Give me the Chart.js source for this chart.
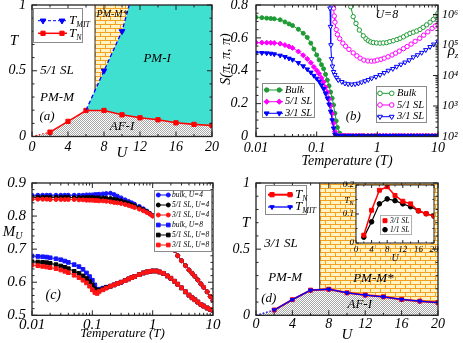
<!DOCTYPE html>
<html><head><meta charset="utf-8">
<script src="https://cdn.jsdelivr.net/npm/chart.js@4.4.1/dist/chart.umd.min.js"></script>
<style>
html,body{margin:0;padding:0;background:#fff;}
body{width:463px;height:343px;position:relative;overflow:hidden;}
canvas{position:absolute;}
</style></head><body>
<canvas id="ca" width="232" height="172" style="left:0;top:0;width:232px;height:172px"></canvas>
<canvas id="cc" width="232" height="171" style="left:0;top:172px;width:232px;height:171px"></canvas>
<canvas id="cb" width="248" height="172" style="left:215px;top:0;width:248px;height:172px"></canvas>
<canvas id="cd" width="248" height="171" style="left:215px;top:172px;width:248px;height:171px"></canvas>
<canvas id="ci" width="104" height="86" style="left:336px;top:180px;width:104px;height:86px"></canvas>
<script>
// ================= DATA =================
// (a) 5/1 SL phase diagram
const uGrid = [2,4,6,8,10,12,14,16,18,20];
const aTN   = [0.033,0.115,0.198,0.198,0.165,0.142,0.127,0.104,0.092,0.084];
const aMitU = [6,8,10,10.8];
const aMitT = [0.2,0.5,0.8,1.0];
const aMitMarked = [0,1,1,0];
const mStarLeftU = 7;   // left edge of the PM-M* region

// (b) S(pi,pi,pi) and rho_z versus temperature, U=8
const sT = [
0.01,0.0125,0.015,0.0175,0.02,0.025,0.03,0.035,0.04,0.05,
0.06,0.07,0.08,0.09,0.1,0.11,0.12,0.13,0.14,0.15,
0.16,0.17,0.18,0.19,0.2,0.21,0.22,0.24,0.26,0.28,
0.3,0.33,0.36,0.4,0.45,0.5,0.55,0.6,0.7,0.8,
0.9,1,1.1,1.25,1.4,1.6,1.8,2,2.25,2.5,
2.8,3.2,3.6,4,4.5,5,5.6,6.3,7,8,
9,10];
const sBulk = [
0.725,0.723,0.72,0.718,0.716,0.71,0.697,0.685,0.675,0.652,
0.628,0.603,0.568,0.532,0.496,0.466,0.437,0.412,0.378,0.343,
0.308,0.27,0.233,0.192,0.141,0.095,0.055,0.02,0.008,0.006,
0.005,0.005,0.005,0.005,0.005,0.005,0.005,0.005,0.005,0.005,
0.005,0.005,0.005,0.005,0.005,0.005,0.005,0.005,0.005,0.005,
0.005,0.005,0.005,0.005,0.005,0.005,0.005,0.005,0.005,0.005,
0.005,0.005];
const s51 = [
0.571,0.571,0.571,0.57,0.569,0.565,0.556,0.548,0.539,0.517,
0.494,0.472,0.449,0.423,0.402,0.382,0.357,0.332,0.3,0.27,
0.229,0.189,0.14,0.08,0.03,0.008,0.005,0.005,0.005,0.005,
0.005,0.005,0.005,0.005,0.005,0.005,0.005,0.005,0.005,0.005,
0.005,0.005,0.005,0.005,0.005,0.005,0.005,0.005,0.005,0.005,
0.005,0.005,0.005,0.005,0.005,0.005,0.005,0.005,0.005,0.005,
0.005,0.005];
const s31 = [
0.51,0.509,0.507,0.505,0.501,0.493,0.485,0.475,0.467,0.448,
0.428,0.409,0.39,0.37,0.353,0.335,0.312,0.29,0.262,0.233,
0.196,0.152,0.1,0.05,0.012,0.004,0.004,0.004,0.004,0.004,
0.004,0.004,0.004,0.004,0.004,0.004,0.004,0.004,0.004,0.004,
0.004,0.004,0.004,0.004,0.004,0.004,0.004,0.004,0.004,0.004,
0.004,0.004,0.004,0.004,0.004,0.004,0.004,0.004,0.004,0.004,
0.004,0.004];
const rBulkT = [0.33,0.364,0.4,0.445,0.505,0.587,0.65,0.71,0.78,0.86,0.97,1.11,1.25,1.43,1.6,1.83,2.1,2.37,2.7,3.05,3.45,3.92,4.45,5.05,5.7,6.5,7.4,8.37,9.2,10];
const rBulk  = [3.2e6,1.8e6,8.5e5,5.1e5,3.1e5,2.0e5,1.6e5,1.38e5,1.26e5,1.2e5,1.17e5,1.15e5,1.17e5,1.2e5,1.29e5,1.38e5,1.51e5,1.66e5,1.86e5,2.14e5,2.4e5,2.63e5,2.88e5,3.24e5,3.8e5,4.57e5,5.6e5,6.9e5,8.9e5,1.12e6];
const r51T = [0.185,0.19,0.195,0.2,0.21,0.22,0.24,0.27,0.3,0.34,0.4,0.46,0.52,0.6,0.7,0.8,0.9,1.0,1.15,1.3,1.5,1.75,2.0,2.3,2.7,3.1,3.6,4.2,5.0,5.8,6.8,8.0,9.0,10];
const r51  = [4.0e6,1.6e6,8.9e5,5.6e5,3.2e5,2.2e5,1.6e5,1.15e5,9.1e4,7.2e4,5.5e4,4.4e4,3.7e4,3.2e4,3.0e4,2.95e4,3.0e4,3.2e4,3.4e4,3.7e4,4.1e4,4.7e4,5.4e4,6.3e4,7.6e4,8.9e4,1.07e5,1.32e5,1.66e5,2.1e5,2.7e5,3.5e5,4.2e5,4.8e5];
const r31T = [0.163,0.166,0.169,0.172,0.176,0.182,0.19,0.2,0.213,0.227,0.26,0.293,0.33,0.378,0.43,0.487,0.55,0.627,0.71,0.807,0.95,1.11,1.3,1.52,1.8,2.08,2.45,2.86,3.35,3.92,4.6,5.38,6.3,7.38,8.5,10];
const r31  = [5.0e6,1.6e6,4.0e5,1.0e5,3.5e4,2.0e4,1.32e4,1.05e4,8.5e3,7.1e3,6.2e3,5.5e3,5.25e3,5.1e3,5.25e3,5.5e3,6.0e3,6.6e3,7.2e3,8.1e3,9.1e3,1.05e4,1.23e4,1.45e4,1.66e4,1.95e4,2.3e4,2.7e4,3.2e4,4.0e4,4.7e4,5.6e4,6.9e4,8.7e4,1.05e5,1.32e5];

// (c) M_U versus temperature
const cT = [
0.01,0.0125,0.015,0.0175,0.02,0.025,0.03,0.035,0.04,0.05,
0.06,0.07,0.08,0.09,0.1,0.11,0.12,0.13,0.15,0.17,
0.2,0.23,0.26,0.3,0.35,0.4,0.45,0.5,0.6,0.7,
0.8,0.9,1,1.15,1.3,1.5,1.75,2,2.3,2.6,
3,3.5,4,4.5,5,5.6,6.3,7,8,9,
10];
const mBulk4 = [
0.863,0.863,0.863,0.863,0.863,0.863,0.863,0.863,0.863,0.863,
0.863,0.863,0.864,0.864,0.864,0.865,0.865,0.866,0.867,0.868,
0.869,0.865,0.86,0.855,0.849,0.844,0.84,0.836,0.829,0.822,
0.815,0.808,0.801,0.788,0.775,0.758,0.737,0.718,0.697,0.68,
0.665,0.65,0.637,0.627,0.618,0.607,0.595,0.585,0.571,0.557,
0.545];
const m51U4 = [
0.857,0.857,0.857,0.857,0.857,0.857,0.857,0.857,0.857,0.856,
0.856,0.856,0.856,0.856,0.856,0.855,0.855,0.855,0.855,0.854,
0.853,0.851,0.849,0.846,0.842,0.838,0.834,0.831,0.825,0.819,
0.813,0.807,0.801,0.788,0.775,0.758,0.737,0.718,0.697,0.68,
0.665,0.65,0.637,0.627,0.618,0.607,0.595,0.585,0.571,0.557,
0.545];
const m31U4 = [
0.851,0.851,0.851,0.851,0.85,0.85,0.85,0.85,0.85,0.85,
0.849,0.849,0.848,0.848,0.848,0.847,0.847,0.846,0.846,0.845,
0.843,0.841,0.84,0.838,0.835,0.832,0.829,0.826,0.821,0.816,
0.811,0.806,0.8,0.788,0.775,0.758,0.737,0.718,0.697,0.68,
0.665,0.65,0.637,0.627,0.618,0.607,0.595,0.585,0.571,0.557,
0.545];
const mBulk8 = [
0.679,0.678,0.677,0.676,0.674,0.671,0.668,0.664,0.66,0.653,
0.647,0.639,0.628,0.617,0.606,0.592,0.577,0.579,0.582,0.585,
0.588,0.592,0.596,0.6,0.605,0.61,0.614,0.617,0.623,0.628,
0.631,0.633,0.634,0.634,0.631,0.627,0.619,0.612,0.603,0.594,
0.583,0.571,0.561,0.553,0.547,0.54,0.533,0.528,0.522,0.518,
0.515];
const m51U8 = [
0.662,0.661,0.66,0.659,0.657,0.653,0.649,0.645,0.641,0.633,
0.627,0.619,0.611,0.602,0.592,0.58,0.572,0.576,0.58,0.584,
0.588,0.592,0.596,0.6,0.605,0.61,0.614,0.617,0.623,0.628,
0.631,0.633,0.634,0.634,0.631,0.627,0.619,0.612,0.603,0.594,
0.583,0.571,0.561,0.553,0.547,0.54,0.533,0.528,0.522,0.518,
0.515];
const m31U8 = [
0.652,0.65,0.648,0.646,0.644,0.641,0.637,0.633,0.629,0.621,
0.614,0.606,0.598,0.588,0.577,0.569,0.566,0.572,0.577,0.582,
0.588,0.592,0.596,0.6,0.605,0.61,0.614,0.617,0.623,0.628,
0.631,0.633,0.634,0.634,0.631,0.627,0.619,0.612,0.603,0.594,
0.583,0.571,0.561,0.553,0.547,0.54,0.533,0.528,0.522,0.518,
0.515];

// (d) 3/1 SL phase diagram and inset
const dTN   = [0.04,0.118,0.19,0.197,0.17,0.153,0.14,0.12,0.107,0.096];
const dTMIT = [0.04,0.118,0.19,0.197,0.17,0.153,0.14,0.12,0.107,0.096];
const inTN31 = [0.027,0.113,0.182,0.194,0.164,0.144,0.135,0.111,0.101,0.093];
const inTN11 = [0.02,0.073,0.135,0.152,0.146,0.135,0.125,0.111,0.101,0.093];

// tick values and labels
const uTicks = [0,4,8,12,16,20];           const uTickLabels = ['0','4','8','12','16','20'];
const tPhTicks = [0,0.5,1];                const tPhLabels = ['0','0.5','1'];
const tempTicks = [0.01,0.1,1,10];         const tempLabels = ['0.01','0.1','1','10'];
const sTicks = [0,0.2,0.4,0.6,0.8];        const sLabels = ['0','0.2','0.4','0.6','0.8'];
const rhoTicks = [1e2,1e3,1e4,1e5,1e6];    const rhoLabels = ['10\u00B2','10\u00B3','10\u2074','10\u2075','10\u2076'];
const mTicks = [0.5,0.6,0.7,0.8,0.9];      const mLabels = ['0.5','0.6','0.7','0.8','0.9'];
const inTTicks = [0,0.1,0.2];              const inTLabels = ['0','0.1','0.2'];

// ================= HELPERS =================
const SERIF = "'Liberation Serif','DejaVu Serif',serif";
const GREEN = '#1e9b34', MAG = '#ff00ff', BLUE = '#0000ff', RED = '#ff0000';
const CBLUE = '#1414ff', CRED = '#ff1414', BLACK = '#000000';
const P = (xs, ys) => xs.map((x, i) => ({x, y: ys[i]}));
function interpY(pts, x){ for(let i=0;i<pts.length-1;i++){const a=pts[i],b=pts[i+1]; if(x>=a.x&&x<=b.x) return a.y+(b.y-a.y)*(x-a.x)/(b.x-a.x);} return pts[pts.length-1].y; }
function steps(min,max,st){const r=[];for(let v=min;v<=max+1e-9;v+=st) r.push(+v.toFixed(6));return r;}
function logMinors(min,max){const r=[];for(let e=Math.floor(Math.log10(min));e<=Math.ceil(Math.log10(max));e++)for(let k=2;k<=9;k++){const v=k*Math.pow(10,e);if(v>min&&v<max)r.push(v);}return r;}
function makePattern(w,h,paint){const c=document.createElement('canvas');c.width=w;c.height=h;const g=c.getContext('2d');paint(g);return g.createPattern(c,'repeat');}
const checker = makePattern(2,2,g=>{g.fillStyle='#ffffff';g.fillRect(0,0,2,2);g.fillStyle='#a8a8a8';g.fillRect(0,0,1,1);g.fillRect(1,1,1,1);});
const brick = makePattern(10,8,g=>{g.fillStyle='#fff3c4';g.fillRect(0,0,10,8);g.fillStyle='#f4a020';g.fillRect(0,0,10,1);g.fillRect(0,4,10,1);g.fillRect(0,0,1,4);g.fillRect(5,4,1,4);});

function line(data,o){return Object.assign({data,fill:false,borderWidth:1,pointRadius:0,pointBorderWidth:1,tension:0},o||{});}
function series(data,color,style,r,o){return line(data,Object.assign({borderColor:color,backgroundColor:color,pointBackgroundColor:color,pointBorderColor:color,pointStyle:style==='triDown'?'triangle':style,pointRotation:style==='triDown'?180:0,pointRadius:r},o||{}));}
function region(data,bg){return line(data,{fill:'shape',backgroundColor:bg,borderWidth:0,borderColor:'rgba(0,0,0,0)',order:20});}

function axis(o){
  return {
    type:o.type||'linear', position:o.position, min:o.min, max:o.max,
    grid:{display:false,drawTicks:false}, border:{display:false},
    afterBuildTicks:s=>{s.ticks=o.ticks.map(v=>({value:v}));},
    afterFit:s=>{ if(o.width!==undefined) s.width=o.width; if(o.height!==undefined) s.height=o.height;
      s.paddingLeft=0;s.paddingRight=0;s.paddingTop=0;s.paddingBottom=0; },
    ticks:{autoSkip:false,maxRotation:0,minRotation:0,padding:o.pad,color:'#000',
      font:{family:SERIF,style:'italic',size:o.size},callback:(v,i)=>o.labels[i]},
    title:o.title?{display:true,text:o.title,color:'#000',font:{family:SERIF,style:'italic',size:o.titleSize,lineHeight:1},padding:{top:0,bottom:o.titlePad}}:{display:false}
  };
}

function mark(ctx,style,x,y,r,color,open){
  ctx.save();ctx.beginPath();
  if(style==='circle') ctx.arc(x,y,r,0,2*Math.PI);
  else if(style==='rect'){const s=r*Math.SQRT1_2;ctx.rect(x-s,y-s,2*s,2*s);}
  else if(style==='rectRot'){ctx.moveTo(x,y-r);ctx.lineTo(x+r,y);ctx.lineTo(x,y+r);ctx.lineTo(x-r,y);ctx.closePath();}
  else if(style==='triDown'){for(let k=0;k<3;k++){const a=Math.PI+k*2*Math.PI/3;const px=x+Math.sin(a)*r,py=y-Math.cos(a)*r;k?ctx.lineTo(px,py):ctx.moveTo(px,py);}ctx.closePath();}
  ctx.fillStyle=open?'#fff':color;ctx.fill();ctx.lineWidth=1;ctx.strokeStyle=color;ctx.stroke();ctx.restore();
}
function richText(ctx,t){
  const size=t.size||13, ss=t.subSize||Math.round(size*0.62);
  const font=s=>`italic ${s}px ${SERIF}`;
  ctx.save();
  ctx.font=font(size);const w1=ctx.measureText(t.text).width;
  let w2=0;if(t.sub){ctx.font=font(ss);w2=ctx.measureText(t.sub).width;}
  const tot=w1+w2;
  ctx.translate(t.x,t.y);if(t.rot)ctx.rotate(t.rot);
  const x0=t.align==='left'?0:t.align==='right'?-tot:-tot/2;
  ctx.fillStyle=t.color||'#000';ctx.textBaseline='middle';ctx.textAlign='left';
  ctx.font=font(size);ctx.fillText(t.text,x0,0);
  if(t.sub){ctx.font=font(ss);ctx.fillText(t.sub,x0+w1,size*0.32);}
  ctx.restore();
}
function drawLegend(ctx,L){
  ctx.save();
  ctx.fillStyle='#fff';ctx.fillRect(L.box[0],L.box[1],L.box[2],L.box[3]);
  ctx.strokeStyle=L.border||'#8a8a8a';ctx.lineWidth=1;ctx.strokeRect(L.box[0]+0.5,L.box[1]+0.5,L.box[2]-1,L.box[3]-1);
  L.items.forEach((it,k)=>{
    const y=L.rows[k];
    if(L.line){ctx.strokeStyle=it.color;ctx.lineWidth=it.lw||1;ctx.setLineDash(it.dash||[]);
      ctx.beginPath();ctx.moveTo(L.line[0],y);ctx.lineTo(L.line[1],y);ctx.stroke();ctx.setLineDash([]);}
    L.marks.forEach(mx=>mark(ctx,it.marker,mx,y,it.r||2.5,it.color,it.open));
    richText(ctx,{x:L.textX,y,text:it.text,sub:it.sub,size:L.size,subSize:L.subSize,align:'left'});
  });
  ctx.restore();
}

const DECO = {};
Chart.register({
  id:'deco',
  beforeDatasetsDraw(chart){
    const o=DECO[chart.canvas.id]; if(!o||!o.bg) return;
    const a=chart.chartArea, ctx=chart.ctx; ctx.save(); ctx.fillStyle=o.bg; ctx.fillRect(a.left,a.top,a.right-a.left,a.bottom-a.top); ctx.restore();
  },
  afterDatasetsDraw(chart){
    const o=DECO[chart.canvas.id]; if(!o) return;
    const ctx=chart.ctx, a=chart.chartArea;
    ctx.save(); ctx.strokeStyle='#222'; ctx.lineWidth=1;
    (o.ticks||[]).forEach(t=>{
      const s=chart.scales[t.scale];
      const one=(v,len)=>{const p=s.getPixelForValue(v);
        t.sides.forEach(side=>{ctx.beginPath();
          if(side==='bottom'){ctx.moveTo(p,a.bottom);ctx.lineTo(p,a.bottom-len);}
          if(side==='top'){ctx.moveTo(p,a.top);ctx.lineTo(p,a.top+len);}
          if(side==='left'){ctx.moveTo(a.left,p);ctx.lineTo(a.left+len,p);}
          if(side==='right'){ctx.moveTo(a.right,p);ctx.lineTo(a.right-len,p);}
          ctx.stroke();});};
      t.major.forEach(v=>one(v,o.majorLen||5));
      (t.minor||[]).filter(v=>t.major.indexOf(v)<0).forEach(v=>one(v,o.minorLen||2.5));
    });
    ctx.lineWidth=o.frameWidth||1.3;
    ctx.strokeRect(a.left,a.top,a.right-a.left,a.bottom-a.top);
    ctx.restore();
    (o.texts||[]).forEach(t=>{
      let x,y;
      if(t.d){x=chart.scales[t.sx||'x'].getPixelForValue(t.d[0]);y=chart.scales[t.sy||'y'].getPixelForValue(t.d[1]);}
      else {x=t.p[0];y=t.p[1];}
      richText(ctx,Object.assign({},t,{x,y}));
    });
    (o.legends||[]).forEach(L=>drawLegend(ctx,L));
  }
});

function makeChart(id,datasets,scales,padding){
  return new Chart(document.getElementById(id),{
    type:'line', data:{datasets},
    options:{responsive:false,maintainAspectRatio:false,animation:false,events:[],
      layout:{padding},plugins:{legend:{display:false},tooltip:{enabled:false}},scales}
  });
}

// ================= PANEL (a) =================
const aTNpts = P(uGrid,aTN);
const aMitPts = P(aMitU,aMitT);
const aMitAt7 = interpY(aMitPts,mStarLeftU);
DECO.ca = {
  ticks:[{scale:'x',sides:['bottom','top'],major:uTicks,minor:steps(2,18,4)},
         {scale:'y',sides:['left','right'],major:tPhTicks,minor:steps(0.1,0.9,0.1)}],
  texts:[
    {d:[8.9,0.93],text:'PM-M*',size:10},
    {d:[13.9,0.59],text:'PM-I',size:13},
    {d:[2.78,0.5],text:'5/1 SL',size:13},
    {d:[2.78,0.293],text:'PM-M',size:13},
    {d:[1.67,0.148],text:'(a)',size:13},
    {d:[10,0.072],text:'AF-I',size:13},
    {p:[14,41.5],text:'T',size:15}
  ],
  legends:[{box:[33,8,50,35],rows:[20.7,33.3],line:[38,67],marks:[43,62],textX:69,size:13,subSize:8,
    items:[{text:'T',sub:'MIT',color:BLUE,marker:'triDown',r:3.3,dash:[3,2]},
           {text:'T',sub:'N',color:RED,marker:'rect',r:3,lw:1.5}]}]
};
makeChart('ca',[
  series(aMitPts,BLUE,'triDown',aMitMarked.map(m=>m?3.3:0),{borderWidth:1.3,borderDash:[4,2.5],order:1}),
  series(aTNpts,RED,'rect',3,{borderWidth:1.6,order:2}),
  line([{x:0,y:0},aTNpts[0]],{borderColor:RED,borderWidth:1.2,borderDash:[1.5,2],order:2}),
  line([{x:mStarLeftU,y:aMitAt7},{x:mStarLeftU,y:1}],{borderColor:'#333',borderWidth:1,order:3}),
  region([{x:mStarLeftU,y:aMitAt7},...aMitPts.filter(p=>p.x>mStarLeftU),{x:mStarLeftU,y:1}],brick),
  region([...aMitPts,{x:20,y:1},...aTNpts.filter(p=>p.x>=6).reverse()],'#40e0d0'),
  region([{x:0,y:0},...aTNpts,{x:20,y:0}],checker)
],{
  x:axis({min:0,max:20,ticks:uTicks,labels:uTickLabels,pad:2,size:14,height:35.5,title:'U',titleSize:15,titlePad:11.5}),
  y:axis({min:0,max:1,ticks:tPhTicks,labels:tPhLabels,pad:6,size:14,width:32})
},{left:0,right:20,top:5,bottom:0});

// ================= PANEL (b) =================
DECO.cb = {
  ticks:[{scale:'x',sides:['bottom','top'],major:tempTicks,minor:logMinors(0.01,10)},
         {scale:'y',sides:['left'],major:sTicks,minor:steps(0.05,0.75,0.05)},
         {scale:'y2',sides:['right'],major:rhoTicks,minor:logMinors(100,2.05e6)}],
  texts:[
    {d:[1.43,0.739],text:'U=8',size:12},
    {d:[0.402,0.12],text:'(b)',size:13},
    {p:[11,59],text:'S(\u03C0, \u03C0, \u03C0)',size:14,rot:-Math.PI/2},
    {p:[238,51],text:'\u03C1',sub:'z',size:15,subSize:9}
  ],
  legends:[
    {box:[47,83,53,35],rows:[90,101.7,113.3],line:[49,68],marks:[51.7,64.3],textX:70,size:10.5,
     items:[{text:'Bulk',color:GREEN,marker:'circle',r:2.2},{text:'5/1 SL',color:MAG,marker:'rectRot',r:2.6},{text:'3/1 SL',color:BLUE,marker:'triDown',r:2.8}]},
    {box:[161,86,51,37],rows:[93.3,105,116.7],line:[162,179],marks:[165,176.7],textX:182,size:10.5,
     items:[{text:'Bulk',color:GREEN,marker:'circle',r:2.3,open:true},{text:'5/1 SL',color:MAG,marker:'circle',r:2.3,open:true},{text:'3/1 SL',color:BLUE,marker:'triDown',r:2.8,open:true}]}
  ]
};
makeChart('cb',[
  series(P(sT,sBulk),GREEN,'circle',2,{order:3}),
  series(P(sT,s51),MAG,'rectRot',2.5,{order:2}),
  series(P(sT,s31),BLUE,'triDown',2.6,{order:1}),
  series(P(rBulkT,rBulk),GREEN,'circle',2.2,{yAxisID:'y2',pointBackgroundColor:'#fff',order:3}),
  series(P(r51T,r51),MAG,'circle',2.2,{yAxisID:'y2',pointBackgroundColor:'#fff',order:2}),
  series(P(r31T,r31),BLUE,'triDown',2.6,{yAxisID:'y2',pointBackgroundColor:'#fff',order:1})
],{
  x:axis({type:'logarithmic',min:0.01,max:10,ticks:tempTicks,labels:tempLabels,pad:3.8,size:14,height:35.5,title:'Temperature (T)',titleSize:14,titlePad:3.3}),
  y:axis({min:0,max:0.8,ticks:sTicks,labels:sLabels,pad:8,size:14,width:41,position:'left'}),
  y2:axis({type:'logarithmic',min:100,max:2.05e6,ticks:rhoTicks,labels:rhoLabels,pad:4,size:12,width:25,position:'right'})
},{left:0,right:0,top:5,bottom:0});

// ================= PANEL (c) =================
DECO.cc = {
  ticks:[{scale:'x',sides:['bottom','top'],major:tempTicks,minor:logMinors(0.01,10)},
         {scale:'y',sides:['left','right'],major:mTicks,minor:steps(0.52,0.88,0.02)}],
  texts:[
    {d:[0.0225,0.56],text:'(c)',size:14},
    {p:[12.5,60],text:'M',sub:'U',size:15,subSize:10}
  ],
  legends:[{box:[154,18,58,62],rows:[23,33,43,53,63,73],line:[156,170],marks:[158.3,168.3],textX:172,size:7.5,
    items:[{text:'bulk, U=4',color:CBLUE,marker:'circle',r:2},{text:'5/1 SL, U=4',color:BLACK,marker:'circle',r:2},{text:'3/1 SL, U=4',color:CRED,marker:'circle',r:2},
           {text:'bulk, U=8',color:CBLUE,marker:'rect',r:2.6},{text:'5/1 SL, U=8',color:BLACK,marker:'rect',r:2.6},{text:'3/1 SL, U=8',color:CRED,marker:'rect',r:2.6}]}]
};
makeChart('cc',[
  series(P(cT,m31U4),CRED,'circle',2,{order:1}),
  series(P(cT,m31U8),CRED,'rect',2.6,{order:1}),
  series(P(cT,m51U4),BLACK,'circle',2,{order:2}),
  series(P(cT,m51U8),BLACK,'rect',2.6,{order:2}),
  series(P(cT,mBulk4),CBLUE,'circle',2,{order:3}),
  series(P(cT,mBulk8),CBLUE,'rect',2.6,{order:3})
],{
  x:axis({type:'logarithmic',min:0.01,max:10,ticks:tempTicks,labels:tempLabels,pad:0.5,size:15,height:27.7,title:'Temperature (T)',titleSize:13,titlePad:2.5}),
  y:axis({min:0.5,max:0.9,ticks:mTicks,labels:mLabels,pad:6,size:15,width:32})
},{left:0,right:19,top:11,bottom:0});

// ================= PANEL (d) =================
const dTNpts = P(uGrid,dTN);
const dMITpts = P(uGrid,dTMIT);
const dTNat7 = interpY(dTNpts,mStarLeftU);
DECO.cd = {
  ticks:[{scale:'x',sides:['bottom','top'],major:uTicks,minor:steps(2,18,4)},
         {scale:'y',sides:['left','right'],major:tPhTicks,minor:steps(0.1,0.9,0.1)}],
  texts:[
    {d:[2.75,0.544],text:'3/1 SL',size:13},
    {d:[3.2,0.282],text:'PM-M',size:13},
    {d:[12.9,0.277],text:'PM-M*',size:13},
    {d:[1.4,0.125],text:'(d)',size:13},
    {d:[11.4,0.078],text:'AF-I',size:13},
    {p:[31,51],text:'T',size:15}
  ],
  legends:[{box:[50,13,42,30],rows:[22.7,35],line:[53,78],marks:[57,75],textX:80,size:13,subSize:8,
    items:[{text:'T',sub:'N',color:RED,marker:'rect',r:3,lw:2},
           {text:'T',sub:'MIT',color:BLUE,marker:'triDown',r:2.6,lw:1.3}]}]
};
makeChart('cd',[
  series(dMITpts,BLUE,'triDown',2.3,{borderWidth:1.3,order:1}),
  series(dTNpts,RED,'rect',2.8,{borderWidth:2,order:2}),
  line([{x:0,y:0},dMITpts[0]],{borderColor:BLUE,borderWidth:1.2,borderDash:[1.5,2],order:2}),
  line([{x:mStarLeftU,y:dTNat7},{x:mStarLeftU,y:1}],{borderColor:'#333',borderWidth:1,order:3}),
  region([{x:mStarLeftU,y:dTNat7},...dTNpts.filter(p=>p.x>mStarLeftU),{x:20,y:1},{x:mStarLeftU,y:1}],brick),
  region([{x:0,y:0},...dTNpts,{x:20,y:0}],checker)
],{
  x:axis({min:0,max:20,ticks:uTicks,labels:uTickLabels,pad:0.5,size:14,height:27.7,title:'U',titleSize:15,titlePad:0}),
  y:axis({min:0,max:1,ticks:tPhTicks,labels:tPhLabels,pad:6,size:14,width:41})
},{left:0,right:25,top:11,bottom:0});

// ================= INSET of (d) =================
DECO.ci = {
  bg:'#ffffff', majorLen:3, minorLen:1.5, frameWidth:1,
  ticks:[{scale:'x',sides:['bottom','top'],major:uTicks,minor:steps(2,18,4)},
         {scale:'y',sides:['left','right'],major:inTTicks,minor:[0.05,0.15]}],
  texts:[{p:[13,21],text:'T',sub:'N',size:9,subSize:6}],
  legends:[{box:[44,35,32,20],rows:[40.7,49.7],marks:[49],textX:54,size:7.5,border:'#b0b0b0',
    items:[{text:'3/1 SL',color:RED,marker:'rect',r:2.8},{text:'1/1 SL',color:BLACK,marker:'circle',r:2.3}]}]
};
makeChart('ci',[
  series(P(uGrid,inTN31),RED,'rect',2.8,{borderWidth:1.5,order:1}),
  series(P(uGrid,inTN11),BLACK,'circle',2.3,{borderWidth:1.2,order:2})
],{
  x:axis({min:0,max:20,ticks:uTicks,labels:uTickLabels,pad:1,size:9,height:23,title:'U',titleSize:10,titlePad:2.5}),
  y:axis({min:0,max:0.2,ticks:inTTicks,labels:inTLabels,pad:2,size:9,width:20})
},{left:0,right:6,top:5,bottom:0});
</script></body></html>
